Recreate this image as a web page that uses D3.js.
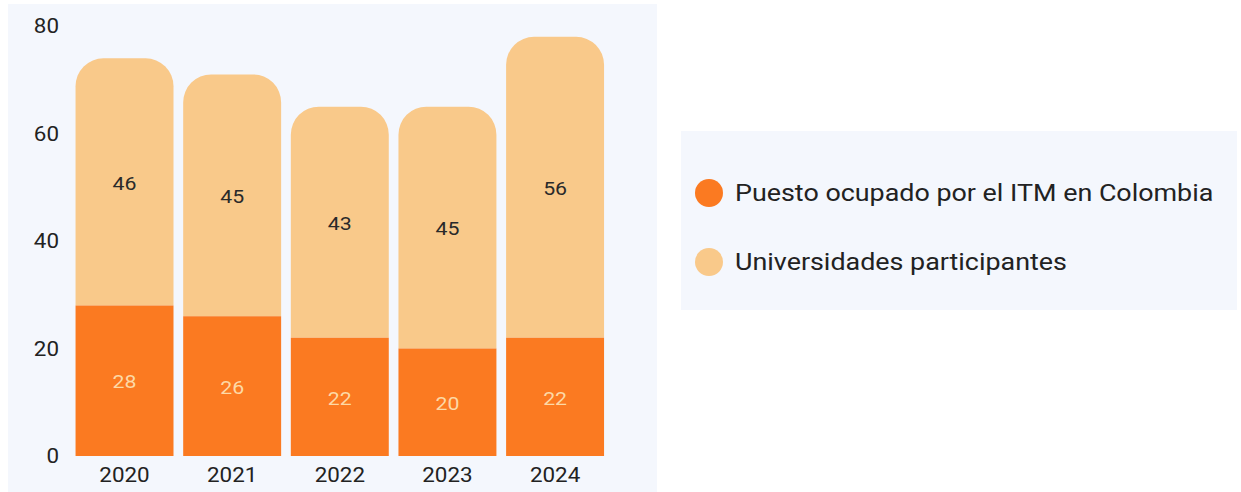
<!DOCTYPE html>
<html><head><meta charset="utf-8">
<script src="https://cdn.jsdelivr.net/npm/d3@7/dist/d3.min.js"></script>
<style>
html,body{margin:0;padding:0;background:#fff;}
svg{display:block;font-family:Roboto,"Noto Sans",sans-serif;}
</style></head>
<body>
<svg id="c" width="1241" height="492"></svg>
<script>
const years = ["2020","2021","2022","2023","2024"];
const puesto = [28,26,22,20,22];
const universidades = [46,45,43,45,56];
const yTicks = [0,20,40,60,80];
const seriesNames = ["Puesto ocupado por el ITM en Colombia","Universidades participantes"];
const colors = ["#FB7A21","#F9C98A"];
const SX = 1.12;

const svg = d3.select("#c");
svg.append("rect").attr("x",8).attr("y",4).attr("width",649).attr("height",488).attr("fill","#F4F7FD");

const x = d3.scaleBand().domain(years).range([70.7,608.9]).paddingInner(0.09).paddingOuter(0.045);
const y = d3.scaleLinear().domain([0,80]).range([456,26]);

function label(g, tx, ty, txt, size, fill, anchor){
  return g.append("text").attr("transform",`translate(${tx},${ty}) scale(${SX},1)`)
    .attr("dy","0.35em").attr("text-anchor",anchor||"middle").attr("font-size",size)
    .attr("fill",fill).text(txt);
}

const r = 28;
years.forEach((yr,i)=>{
  const x0 = x(yr), w = x.bandwidth();
  const yb = y(0), y1 = y(puesto[i]), y2 = y(puesto[i]+universidades[i]);
  const p = `M${x0},${y1} L${x0},${y2+r} A${r},${r} 0 0 1 ${x0+r},${y2} L${x0+w-r},${y2} A${r},${r} 0 0 1 ${x0+w},${y2+r} L${x0+w},${y1} Z`;
  svg.append("path").attr("d",p).attr("fill",colors[1]);
  svg.append("rect").attr("x",x0).attr("y",y1).attr("width",w).attr("height",yb-y1).attr("fill",colors[0]);
  label(svg, x0+w/2, (y1+yb)/2+1, puesto[i], 19, "#FDD9A6");
  label(svg, x0+w/2, (y1+y2)/2+1, universidades[i], 19, "#2a2a2a");
});

const gy = svg.append("g");
yTicks.forEach(t=>label(gy, 59, y(t), t, 20, "#222", "end"));
const gx = svg.append("g");
years.forEach(yr=>label(gx, x(yr)+x.bandwidth()/2, 475, yr, 20, "#222"));

svg.append("rect").attr("x",681).attr("y",131).attr("width",556).attr("height",179).attr("fill","#F4F7FD");
const ly = [193,262];
seriesNames.forEach((n,i)=>{
  svg.append("circle").attr("cx",709).attr("cy",ly[i]).attr("r",14).attr("fill",colors[i]);
  label(svg, 735, ly[i], n, 24, "#222", "start");
});
</script>
</body></html>
